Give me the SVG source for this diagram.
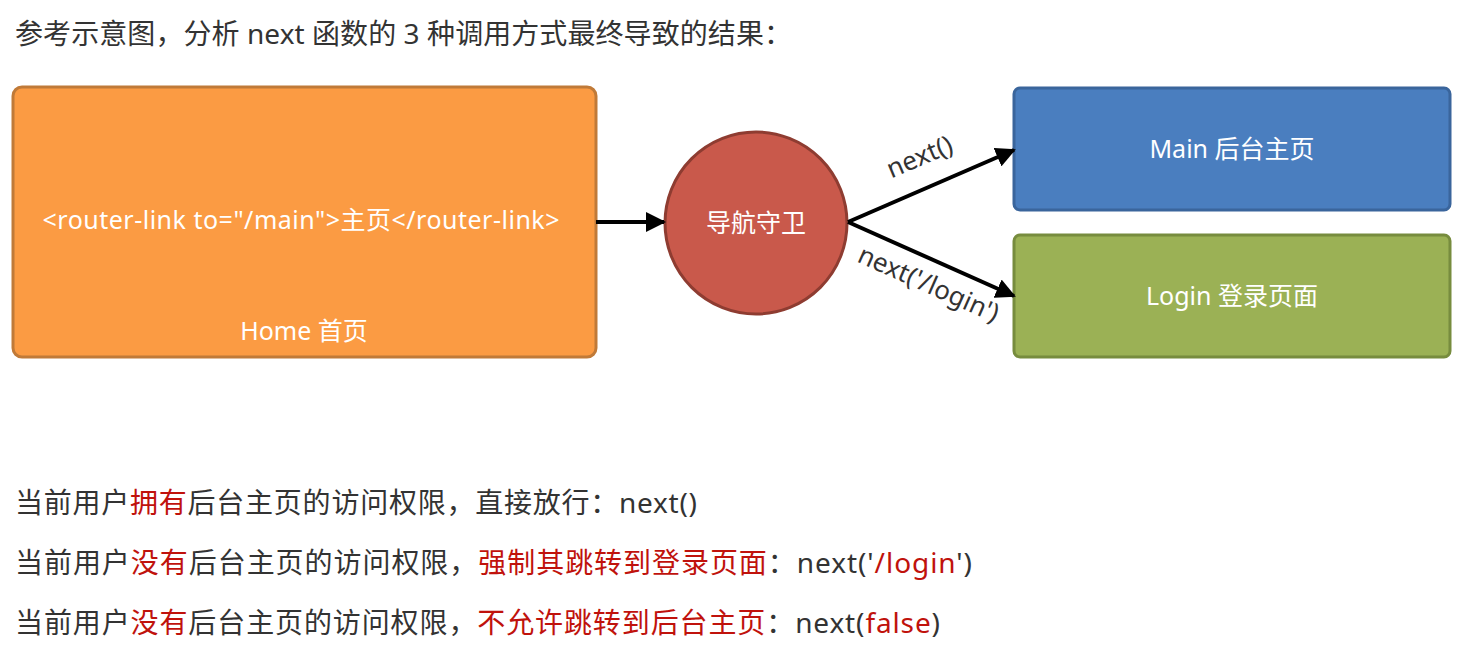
<svg xmlns="http://www.w3.org/2000/svg" width="1475" height="656" viewBox="0 0 1475 656">
<defs>
<marker id="arr" viewBox="0 0 10 10" refX="9" refY="5" markerWidth="5" markerHeight="5" orient="auto" markerUnits="strokeWidth">
<path d="M0,0 L10,5 L0,10 Z" fill="#000"/>
</marker>
<style>
text{font-family:"Noto Sans","Noto Sans CJK SC",sans-serif;}
.t{font-size:28px;fill:#333;}
.r{fill:#C0120C;}
.w{font-size:25px;fill:#fff;text-anchor:middle;}
.lbl{font-size:26px;fill:#333;text-anchor:middle;}
.conn{stroke:#000;stroke-width:4;fill:none;marker-end:url(#arr);}
</style>
</defs>
<rect width="1475" height="656" fill="#fff"/>
<text class="t" x="15" y="44" font-size="27" textLength="777" lengthAdjust="spacing">参考示意图，分析 next 函数的 3 种调用方式最终导致的结果：</text>
<g id="home">
<rect x="13" y="87" width="583" height="270" rx="9" fill="#FB9B43" stroke="#C07A38" stroke-width="3"/>
<text class="w" x="301" y="229" textLength="517" lengthAdjust="spacing">&lt;router-link to="/main"&gt;主页&lt;/router-link&gt;</text>
<text class="w" x="304" y="340">Home 首页</text>
</g>
<g id="guard">
<circle cx="756" cy="223" r="91" fill="#C9594B" stroke="#8E3C31" stroke-width="3"/>
<text class="w" x="756" y="232">导航守卫</text>
</g>
<g id="main">
<rect x="1014" y="88" width="436" height="122" rx="6" fill="#4A7EBF" stroke="#3A659C" stroke-width="3"/>
<text class="w" x="1232" y="158">Main 后台主页</text>
</g>
<g id="login">
<rect x="1014" y="235" width="436" height="122" rx="6" fill="#9BB155" stroke="#778C3E" stroke-width="3"/>
<text class="w" x="1232" y="305">Login 登录页面</text>
</g>
<g id="connectors">
<line class="conn" x1="596" y1="222" x2="664" y2="222"/>
<line class="conn" x1="848" y1="222" x2="1014" y2="150"/>
<line class="conn" x1="848" y1="222" x2="1014" y2="296"/>
<text class="lbl" transform="translate(923,165) rotate(-23)">next()</text>
<text class="lbl" transform="translate(925,292) rotate(24)">next('/login')</text>
</g>
<text class="t" x="15" y="513" textLength="682" lengthAdjust="spacing">当前用户<tspan class="r">拥有</tspan>后台主页的访问权限，直接放行：next()</text>
<text class="t" x="15" y="573" textLength="957" lengthAdjust="spacing">当前用户<tspan class="r">没有</tspan>后台主页的访问权限，<tspan class="r">强制其跳转到登录页面</tspan>：next('<tspan class="r">/login</tspan>')</text>
<text class="t" x="15" y="633" textLength="925" lengthAdjust="spacing">当前用户<tspan class="r">没有</tspan>后台主页的访问权限，<tspan class="r">不允许跳转到后台主页</tspan>：next(<tspan class="r">false</tspan>)</text>
</svg>
